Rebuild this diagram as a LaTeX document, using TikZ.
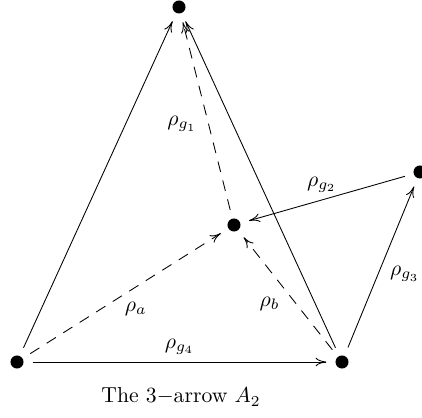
\documentclass[tikz,border=0pt]{standalone}
\usepackage{tikz}
\usetikzlibrary{arrows.meta,positioning}
\tikzset{%
  quivdot/.style={%
    circle,
    fill=black,
    inner sep=0pt,
    minimum size=6pt
  },
  quivarrow/.style={-{To[length=5pt,width=4pt]},shorten >=4pt,shorten <=4pt},
  quivdash/.style={quivarrow,dash pattern=on 5pt off 4pt}
}
\begin{document}
\begin{tikzpicture}[x=0.0162cm,y=-0.0162cm]
    \useasboundingbox (0,0) rectangle (422,418);
    \node[quivdot] (apex) at (179,7) {};
    \node[quivdot] (west) at (17,362) {};
    \node[quivdot] (south) at (342,362) {};
    \node[quivdot] (hub) at (234,225) {};
    \node[quivdot] (east) at (420,172) {};

    \draw[quivarrow] (west) -- (apex);
    \draw[quivarrow] (south) -- (apex);
    \draw[quivdash] (hub) -- node[pos=0.46,left=2pt]{$\rho_{g_1}$} (apex);
    \draw[quivarrow] (east) -- node[pos=0.53,above]{$\rho_{g_2}$} (hub);
    \draw[quivarrow] (south) -- node[pos=0.46,right=2pt]{$\rho_{g_3}$} (east);
    \draw[quivdash] (west) -- node[pos=0.55,below=3.5pt]{$\rho_a$} (hub);
    \draw[quivdash] (south) -- node[pos=0.42,left=4pt]{$\rho_b$} (hub);
    \draw[quivarrow] (west) -- node[midway,above]{$\rho_{g_4}$} (south);

    \node (caption) at (181,397) {The $3-$arrow $A_2$};
  \end{tikzpicture}
\end{document}
